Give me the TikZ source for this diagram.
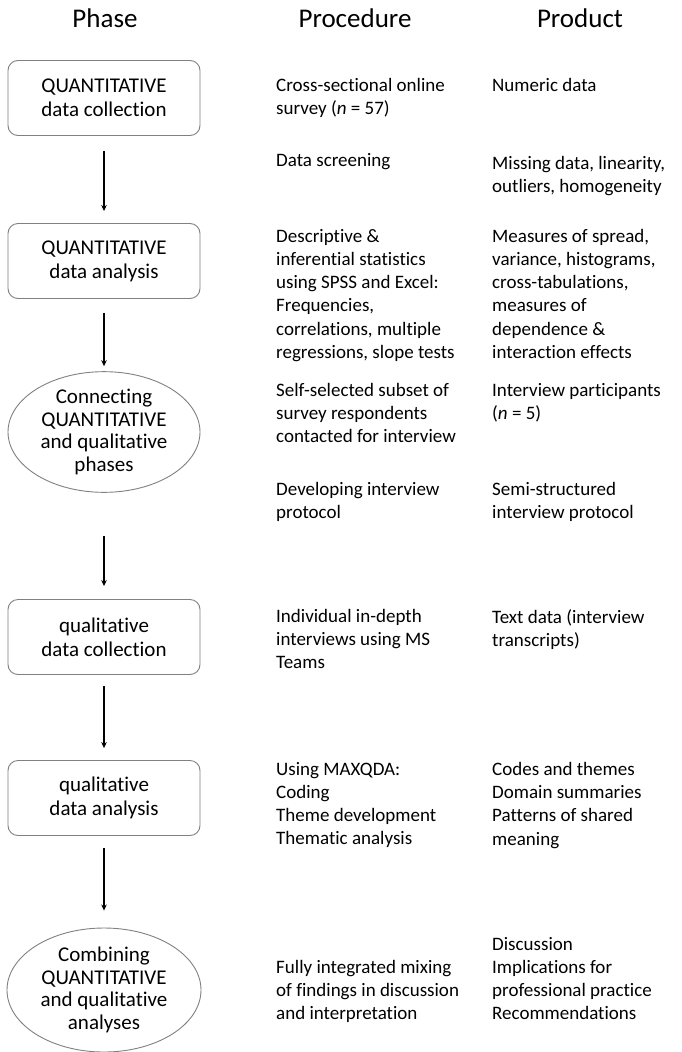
\documentclass[tikz,border=0pt]{standalone}
\usepackage{fontspec}
\setmainfont{Carlito}[RawFeature={-liga}]
\usetikzlibrary{arrows.meta,shapes.geometric}

\tikzset{
  phasebox/.style={draw=black!50, line width=0.9pt, rounded corners=10pt,
    minimum width=192pt, minimum height=75pt, align=center, inner sep=0pt,
    font=\fontsize{21}{24}\selectfont},
  phaseoval/.style={draw=black!50, line width=0.9pt, ellipse,
    minimum width=192pt, minimum height=112pt, align=center, inner sep=0pt,
    font=\fontsize{21}{22.5}\selectfont},
  coltext/.style={anchor=north west, align=left, inner sep=0pt},
  colhead/.style={font=\fontsize{27}{30}\selectfont},
  flow/.style={-{Stealth[length=6pt,width=5.5pt]}, line width=1.1pt},
}

\begin{document}
\begin{tikzpicture}[x=1pt, y=-1pt, font=\fontsize{19}{23.2}\selectfont]
\useasboundingbox (0,0) rectangle (681,1052);

% column headings
\node[colhead] (hphase) at (105,18) {Phase};
\node[colhead] (hproc) at (355,18) {Procedure};
\node[colhead] (hprod) at (580,18) {Product};

% phases
\node[phasebox] (quancoll) at (104,98) {QUANTITATIVE\\data collection};
\node[phasebox] (quanana) at (104,261) {QUANTITATIVE\\data analysis};
\node[phaseoval] (connect) at (104,432) {Connecting\\QUANTITATIVE\\and qualitative\\phases};
\node[phasebox] (qualcoll) at (104,637) {qualitative\\data collection};
\node[phasebox] (qualana) at (104,798) {qualitative\\data analysis};
\node[phaseoval, minimum width=194pt, minimum height=124pt] (combine) at (104,990) {Combining\\QUANTITATIVE\\and qualitative\\analyses};

\draw[flow, shorten <=15pt, shorten >=12pt] (quancoll) -- (quanana);
\draw[flow, shorten <=14pt, shorten >=5pt] (quanana) -- (connect);
\draw[flow, shorten <=43pt, shorten >=13pt] (connect) -- (qualcoll);
\draw[flow, shorten <=11pt, shorten >=12pt] (qualcoll) -- (qualana);
\draw[flow, shorten <=12pt, shorten >=17pt] (qualana) -- (combine);

% procedure column
\node[coltext] (p1) at (276,78) {Cross-sectional online\\survey (\textit{n} = 57)};
\node[coltext] (p2) at (276,153) {Data screening};
\node[coltext] (p3) at (276,229) {Descriptive \&\\inferential statistics\\using SPSS and Excel:\\Frequencies,\\correlations, multiple\\regressions, slope tests};
\node[coltext] (p4) at (276,383) {Self-selected subset of\\survey respondents\\contacted for interview};
\node[coltext] (p5) at (276,482) {Developing interview\\protocol};
\node[coltext] (p6) at (276,609) {Individual in-depth\\interviews using MS\\Teams};
\node[coltext] (p7) at (276,762) {Using MAXQDA:\\Coding\\Theme development\\Thematic analysis};
\node[coltext] (p8) at (276,960) {Fully integrated mixing\\of findings in discussion\\and interpretation};

% product column
\node[coltext] (r1) at (492,78) {Numeric data};
\node[coltext] (r2) at (492,156) {Missing data, linearity,\\outliers, homogeneity};
\node[coltext] (r3) at (492,229) {Measures of spread,\\variance, histograms,\\cross-tabulations,\\measures of\\dependence \&\\interaction effects};
\node[coltext] (r4) at (492,383) {Interview participants\\(\textit{n} = 5)};
\node[coltext] (r5) at (492,482) {Semi-structured\\interview protocol};
\node[coltext] (r6) at (492,609) {Text data (interview\\transcripts)};
\node[coltext] (r7) at (492,762) {Codes and themes\\Domain summaries\\Patterns of shared\\meaning};
\node[coltext] (r8) at (492,937) {Discussion\\Implications for\\professional practice\\Recommendations};
\end{tikzpicture}
\end{document}
